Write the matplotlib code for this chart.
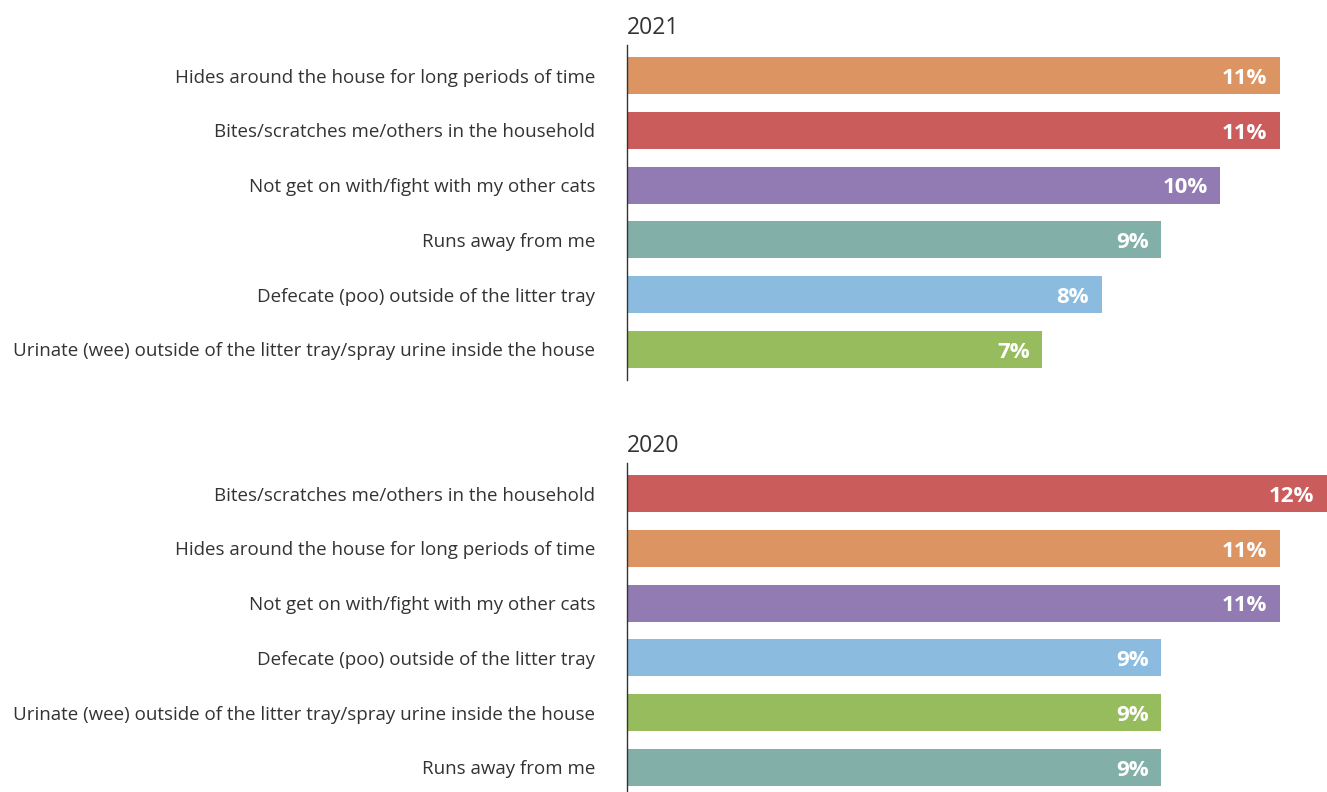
import matplotlib
matplotlib.use("Agg")
import matplotlib.pyplot as plt

plt.rcParams['font.family'] = ['Open Sans', 'DejaVu Sans']

# Data
cats_2021 = [
    "Hides around the house for long periods of time",
    "Bites/scratches me/others in the household",
    "Not get on with/fight with my other cats",
    "Runs away from me",
    "Defecate (poo) outside of the litter tray",
    "Urinate (wee) outside of the litter tray/spray urine inside the house",
]
vals_2021 = [11, 11, 10, 9, 8, 7]

cats_2020 = [
    "Bites/scratches me/others in the household",
    "Hides around the house for long periods of time",
    "Not get on with/fight with my other cats",
    "Defecate (poo) outside of the litter tray",
    "Urinate (wee) outside of the litter tray/spray urine inside the house",
    "Runs away from me",
]
vals_2020 = [12, 11, 11, 9, 9, 9]

colour_map = {
    "Hides around the house for long periods of time": "#DB9462",
    "Bites/scratches me/others in the household": "#CB5C5C",
    "Not get on with/fight with my other cats": "#927BB2",
    "Runs away from me": "#82AFA8",
    "Defecate (poo) outside of the litter tray": "#8BBCDF",
    "Urinate (wee) outside of the litter tray/spray urine inside the house": "#97BC5E",
}

W, H = 1327, 792
fig = plt.figure(figsize=(W / 100, H / 100), dpi=100)

def panel(top_px, cats, vals, title):
    height_px = 335
    left = 627 / W
    width = 700 / W
    bottom = (H - top_px - height_px) / H
    ax = fig.add_axes([left, bottom, width, height_px / H])
    y = list(range(len(cats)))
    ax.barh(y, vals, height=0.68, color=[colour_map[c] for c in cats])
    ax.set_xlim(0, 11.8)
    ax.set_ylim(len(cats) - 0.44, -0.56)
    ax.set_yticks(y)
    ax.set_yticklabels(cats, fontsize=13.5, color="#333333")
    ax.tick_params(axis='y', length=0, pad=23)
    ax.set_xticks([])
    for s in ["top", "right", "bottom"]:
        ax.spines[s].set_visible(False)
    ax.spines["left"].set_color("#333333")
    ax.spines["left"].set_linewidth(1.0)
    for yi, v in zip(y, vals):
        ax.text(min(v, 11.8) - 0.21, yi + 0.05, f"{v}%", ha="right", va="center",
                color="white", fontsize=16, fontweight="bold")
    ax.set_title(title, loc="left", fontsize=16.5, color="#333333", pad=8)
    return ax

panel(45, cats_2021, vals_2021, "2021")
panel(463, cats_2020, vals_2020, "2020")

fig.savefig("out.png", dpi=100)
